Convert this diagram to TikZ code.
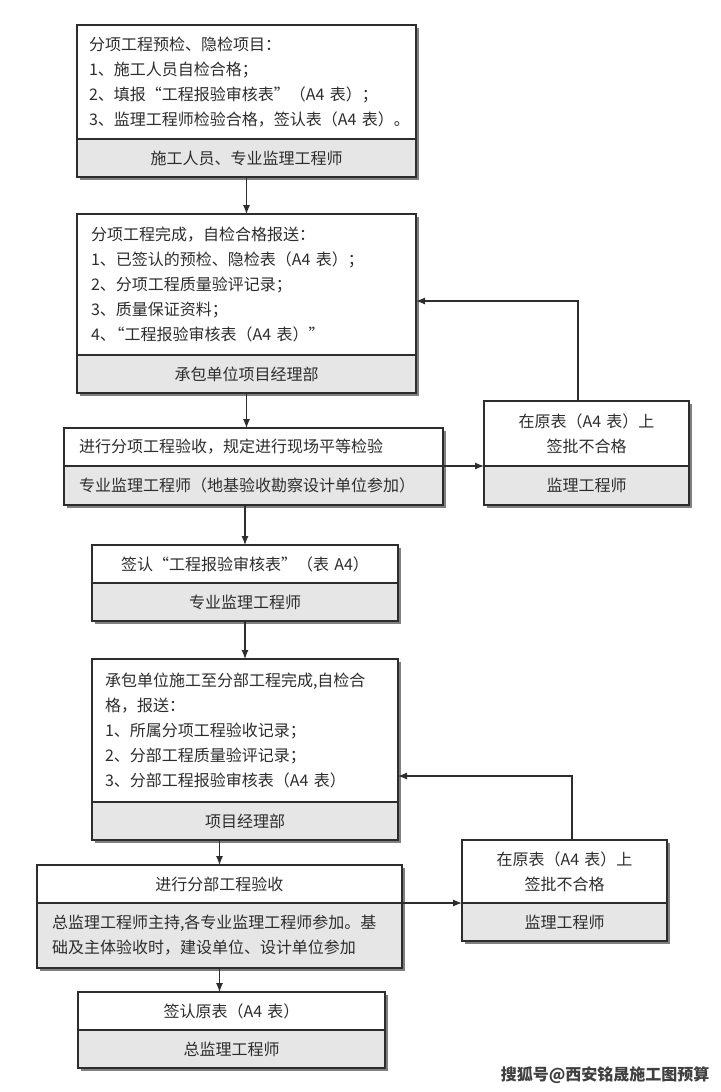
\documentclass[tikz,border=0pt]{standalone}
\usepackage{fontspec}
\setmainfont{Noto Sans CJK SC}
\usetikzlibrary{arrows.meta,shadows}
\definecolor{boxgray}{RGB}{230,230,230}
\definecolor{inkgray}{RGB}{45,45,45}
\tikzset{
  upper/.style={draw=inkgray, line width=1.1pt, fill=white, anchor=north west,
    outer sep=0pt, inner xsep=14pt, inner ysep=0pt, text=inkgray, align=left,
    font=\fontsize{16pt}{25pt}\selectfont,
    drop shadow={shadow xshift=3pt, shadow yshift=-3pt, fill=black!50, opacity=1}},
  lower/.style={upper, fill=boxgray},
  mid/.style={align=center},
  link/.style={draw=inkgray, line width=1.2pt, ->}
}

\begin{document}
\begin{tikzpicture}[x=1pt, y=-1pt, >={Latex[length=9pt,width=7pt]}]
  \useasboundingbox (0,0) rectangle (720,1092);
  \node[upper, text width=315pt, minimum height=114pt, inner xsep=12pt] (p1) at (77,25) {分项工程预检、隐检项目：\\1、施工人员自检合格；\\2、填报“工程报验审核表”（A4~表）；\\3、监理工程师检验合格，签认表（A4~表）。};
  \node[lower, mid, text width=315pt, minimum height=38pt, inner xsep=12pt] (q1) at (p1.south west) {施工人员、专业监理工程师};
  \node[upper, text width=311pt, minimum height=141pt] (p2) at (77,214) {分项工程完成，自检合格报送：\\1、已签认的预检、隐检表（A4~表）；\\2、分项工程质量验评记录；\\3、质量保证资料；\\4、\kern-0.45em“工程报验审核表（A4~表）”};
  \node[lower, mid, text width=311pt, minimum height=38pt] (q2) at (p2.south west) {承包单位项目经理部};
  \node[upper, text width=349pt, minimum height=38pt, inner xsep=15pt] (p3) at (64,428) {进行分项工程验收，规定进行现场平等检验};
  \node[lower, text width=349pt, minimum height=39pt, inner xsep=15pt] (q3) at (p3.south west) {专业监理工程师（地基验收勘察设计单位参加）};
  \node[upper, mid, text width=181pt, minimum height=65pt, inner xsep=12pt] (ra) at (484,401) {在原表（A4~表）上\\签批不合格};
  \node[lower, mid, text width=181pt, minimum height=39pt, inner xsep=12pt] (rb) at (ra.south west) {监理工程师};
  \node[upper, mid, text width=278pt, minimum height=38pt] (p4) at (92,545) {签认“工程报验审核表”（表~A4）};
  \node[lower, mid, text width=278pt, minimum height=38pt] (q4) at (p4.south west) {专业监理工程师};
  \node[upper, text width=280pt, minimum height=143pt, inner xsep=13pt] (p5) at (92,659) {承包单位施工至分部工程完成,自检合\\格，报送：\\1、所属分项工程验收记录；\\2、分部工程质量验评记录；\\3、分部工程报验审核表（A4~表）};
  \node[lower, mid, text width=280pt, minimum height=38pt, inner xsep=13pt] (q5) at (p5.south west) {项目经理部};
  \node[upper, mid, text width=335pt, minimum height=38pt, inner xsep=15pt] (p6) at (37,865) {进行分部工程验收};
  \node[lower, text width=335pt, minimum height=65pt, inner xsep=15pt] (q6) at (p6.south west) {总监理工程师主持,各专业监理工程师参加。基\\础及主体验收时，建设单位、设计单位参加};
  \node[upper, mid, text width=181pt, minimum height=63pt, inner xsep=12pt] (sa) at (462,840) {在原表（A4~表）上\\签批不合格};
  \node[lower, mid, text width=181pt, minimum height=38pt, inner xsep=12pt] (sb) at (sa.south west) {监理工程师};
  \node[upper, mid, text width=279pt, minimum height=38pt] (p7) at (78,992) {签认原表（A4~表）};
  \node[lower, mid, text width=279pt, minimum height=38pt] (q7) at (p7.south west) {总监理工程师};
  \node[anchor=east, text=black!75, font=\bfseries\fontsize{16pt}{16pt}\selectfont] (mark) at (713,1075) {搜狐号@西安铭晟施工图预算};
  \coordinate (ka) at (578,301);
  \coordinate (kb) at (572,776);
  \draw[link] (q1.south) -- (p2.north);
  \draw[link] (q2.south) -- (q2.south |- p3.north);
  \draw[link] (q3.south -| p4.north) -- (p4.north);
  \draw[link] (q4.south) -- (p5.north);
  \draw[link] (q5.south -| p6.north) -- (p6.north);
  \draw[link] (q6.south) -- (q6.south |- p7.north);
  \draw[link] (p3.south east) -- (ra.south west);
  \draw[link] (p6.south east) -- (sa.south west);
  \draw[link] (ka |- ra.north) -- (ka) -- (ka -| p2.east);
  \draw[link] (kb |- sa.north) -- (kb) -- (kb -| p5.east);
\end{tikzpicture}
\end{document}
